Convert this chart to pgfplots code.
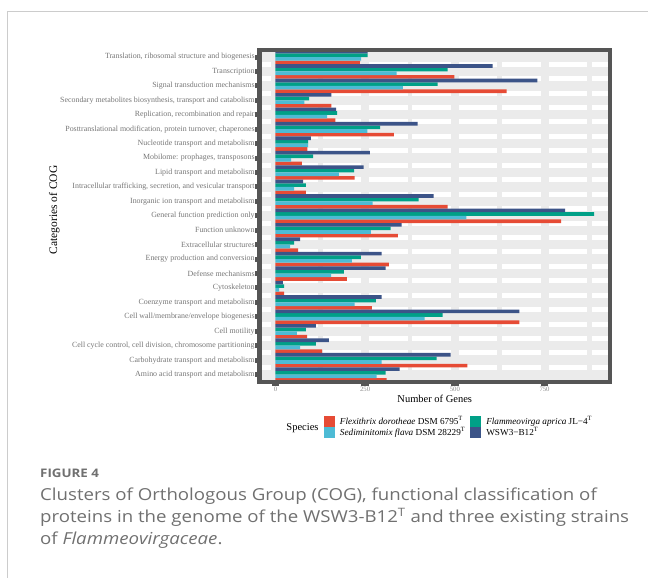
\documentclass[border=0pt]{standalone}
\usepackage{fontspec}
\setmainfont{Liberation Serif}
\newfontfamily\capfont[FakeStretch=1.13]{Open Sans}
\usepackage{pgfplots}
\usepackage{pgfplotstable}
\pgfplotsset{compat=1.18}
\definecolor{cRed}{HTML}{E64B35}
\definecolor{cCyan}{HTML}{4DBBD5}
\definecolor{cTeal}{HTML}{00A087}
\definecolor{cBlue}{HTML}{3C5488}
\definecolor{panel}{HTML}{EBEBEB}
\definecolor{bordergray}{HTML}{555555}
\definecolor{ticklab}{HTML}{767676}
\definecolor{capgray}{HTML}{707070}
\definecolor{framegray}{HTML}{CCCCCC}

\pgfplotstableread{
y red cyan teal blue
1 310 282 307 346
2 535 296 449 488
3 130 69 113 149
4 88 60 85 113
5 680 416 466 680
6 269 221 280 296
7 24 10 24 21
8 199 155 191 307
9 316 213 238 296
10 63 41 52 69
11 341 266 321 352
12 796 532 888 807
13 480 271 399 441
14 85 52 85 77
15 221 177 219 246
16 74 44 105 263
17 89 91 91 99
18 330 256 292 396
19 167 144 172 169
20 156 81 94 156
21 644 355 452 730
22 499 338 480 605
23 236 239 257 257
}\cogdata

\begin{document}
\begin{tikzpicture}[x=1pt,y=1pt]
\useasboundingbox (0,0) rectangle (648,-578);
\draw[framegray, line width=1pt] (648,-11.8) -- (7.8,-11.8) -- (7.8,-578);
\begin{axis}[
  at={(259.5pt,-381.8pt)}, anchor=south west,
  scale only axis, width=350.5pt, height=332pt,
  xmin=-44.4, xmax=932.4, ymin=0.5, ymax=23.5,
  axis on top,
  axis background/.style={fill=panel},
  axis line style={draw=bordergray, line width=4.3pt},
  xtick={0,250,500,750},
  ytick={1,...,23},
  yticklabels={Amino acid transport and metabolism,
    Carbohydrate transport and metabolism,
    {Cell cycle control, cell division, chromosome partitioning},
    Cell motility,
    Cell wall/membrane/envelope biogenesis,
    Coenzyme transport and metabolism,
    Cytoskeleton,
    Defense mechanisms,
    Energy production and conversion,
    Extracellular structures,
    Function unknown,
    General function prediction only,
    Inorganic ion transport and metabolism,
    {Intracellular trafficking, secretion, and vesicular transport},
    Lipid transport and metabolism,
    {Mobilome: prophages, transposons},
    Nucleotide transport and metabolism,
    {Posttranslational modification, protein turnover, chaperones},
    {Replication, recombination and repair},
    {Secondary metabolites biosynthesis, transport and catabolism},
    Signal transduction mechanisms,
    Transcription,
    {Translation, ribosomal structure and biogenesis}},
  xtick pos=left, ytick pos=left, tick align=outside,
  major tick length=4.2pt,
  x tick style={draw=bordergray, line width=7.5pt},
  y tick style={draw=bordergray, line width=5pt},
  /pgf/number format/assume math mode=true,
  xticklabel style={font=\fontsize{6.7}{7}\selectfont, text=ticklab!85, inner sep=1pt},
  yticklabel style={font=\fontsize{7.9}{8}\selectfont, text=ticklab, inner sep=0.5pt},
  xlabel={Number of Genes},
  xlabel style={at={(axis description cs:0.5,-0.0633)}, anchor=base, inner sep=0pt, font=\fontsize{10.5}{12}\selectfont},
  ylabel={Categories of COG},
  ylabel style={at={(axis description cs:-0.5777,0.5175)}, anchor=base, inner sep=0pt, font=\fontsize{11.5}{12}\selectfont},
  legend columns=2,
  legend cell align=left,
  legend image code/.code={\fill[#1] (0pt,-5.5pt) rectangle (11pt,5.5pt);},
  legend style={at={(axis description cs:0.184,-0.102)}, anchor=north west,
    draw=none, fill=none, inner sep=0pt, outer sep=0pt, row sep=0pt,
    font=\fontsize{9.2}{10}\selectfont,
    nodes={inner sep=0pt, anchor=west},
    /tikz/every odd column/.append style={column sep=5pt},
    /tikz/every even column/.append style={column sep=5pt}},
]
\pgfplotsinvokeforeach{1.5,2.5,3.5,4.5,5.5,6.5,7.5,8.5,9.5,10.5,11.5,12.5,13.5,14.5,15.5,16.5,17.5,18.5,19.5,20.5,21.5,22.5}{
  \draw[white, line width=5pt] (axis cs:-44.4,#1) -- (axis cs:932.4,#1);
}
\pgfplotsinvokeforeach{0,250,500,750}{
  \draw[panel, line width=8pt] (axis cs:#1,0.5) -- (axis cs:#1,23.5);
}
\pgfplotsinvokeforeach{125,375,625,875}{
  \draw[panel, line width=4.5pt] (axis cs:#1,0.5) -- (axis cs:#1,23.5);
}
\addplot[xbar, fill=cRed, draw=none, bar width=0.25, bar shift=-0.375] table[x=red, y=y] {\cogdata};
\addlegendentry{\textit{Flexithrix dorotheae} DSM 6795\textsuperscript{T}}
\addplot[xbar, fill=cTeal, draw=none, bar width=0.25, bar shift=0.125] table[x=teal, y=y] {\cogdata};
\addlegendentry{\textit{Flammeovirga aprica} JL−4\textsuperscript{T}}
\addplot[xbar, fill=cCyan, draw=none, bar width=0.25, bar shift=-0.125] table[x=cyan, y=y] {\cogdata};
\addlegendentry{\textit{Sediminitomix flava} DSM 28229\textsuperscript{T}}
\addplot[xbar, fill=cBlue, draw=none, bar width=0.25, bar shift=0.375] table[x=blue, y=y] {\cogdata};
\addlegendentry{WSW3−B12\textsuperscript{T}}
\end{axis}
\node[anchor=base, inner sep=0pt, font=\fontsize{10.5}{12}\selectfont] at (302.5,-430.5) {Species};
\node[anchor=base west, inner sep=0pt, text=capgray, font=\capfont\bfseries\fontsize{11.8}{13}\selectfont] at (40,-477.3) {FIGURE 4};
\node[anchor=base west, inner sep=0pt, text=capgray, font=\capfont\fontsize{16.5}{19}\selectfont] at (40,-500.3) {Clusters of Orthologous Group (COG), functional classification of};
\node[anchor=base west, inner sep=0pt, text=capgray, font=\capfont\fontsize{16.5}{19}\selectfont] at (40,-522.3) {proteins in the genome of the WSW3-B12\textsuperscript{T} and three existing strains};
\node[anchor=base west, inner sep=0pt, text=capgray, font=\capfont\fontsize{16.5}{19}\selectfont] at (40,-544.3) {of \textit{Flammeovirgaceae}.};
\end{tikzpicture}
\end{document}
